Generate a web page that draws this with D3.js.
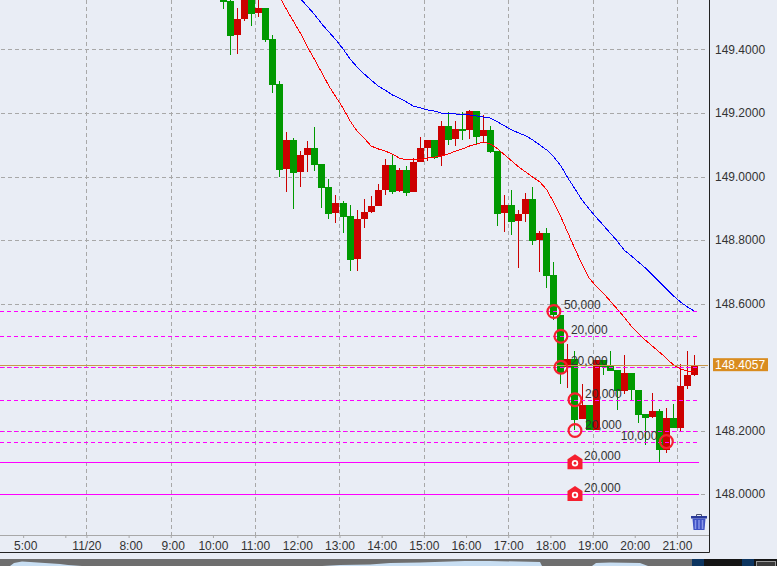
<!DOCTYPE html>
<html>
<head>
<meta charset="utf-8">
<script src="https://cdn.jsdelivr.net/npm/d3@7"></script>
<style>
  html, body { margin: 0; padding: 0; background: #e9edf5; overflow: hidden; }
  svg { display: block; }
  text { font-family: "Liberation Sans", Arial, sans-serif; font-size: 12px; fill: #333; }
</style>
</head>
<body>
<div id="chart"></div>
<script>
// 10 minute candles, index 0 is the first one that reaches into the window
var opens = [149.588,149.553,149.446,149.496,149.562,149.515,149.531,149.433,149.291,149.024,
  149.115,149.014,149.068,149.090,149.039,148.967,148.885,148.917,148.876,148.740,
  148.866,148.888,148.907,148.958,149.036,148.954,149.020,148.951,149.046,149.090,
  149.115,149.065,149.159,149.118,149.150,149.147,149.206,149.128,149.147,149.080,
  148.885,148.910,148.860,148.882,148.929,148.800,148.822,148.690,148.564,148.400,
  148.425,148.236,148.280,148.201,148.422,148.403,148.390,148.324,148.381,148.328,
  148.252,148.242,148.261,148.138,148.239,148.208,148.340,148.375];
var highs = [149.606,149.581,149.531,149.594,149.581,149.569,149.531,149.446,149.301,149.140,
  149.121,149.080,149.112,149.156,149.039,148.992,148.942,148.923,148.910,148.894,
  148.929,148.939,148.976,149.055,149.068,149.027,149.033,149.058,149.124,149.115,
  149.115,149.175,149.203,149.175,149.203,149.210,149.206,149.194,149.159,149.080,
  148.942,148.958,148.894,148.948,148.967,148.828,148.838,148.731,148.564,148.472,
  148.450,148.346,148.280,148.422,148.422,148.450,148.390,148.438,148.381,148.328,
  148.252,148.318,148.268,148.271,148.283,148.409,148.450,148.438];
var lows = [149.528,149.383,149.386,149.490,149.474,149.502,149.424,149.263,148.998,148.951,
  148.898,148.967,149.014,149.017,148.901,148.866,148.854,148.822,148.702,148.702,
  148.838,148.885,148.907,148.942,148.945,148.951,148.939,148.951,149.046,149.049,
  149.055,149.033,149.099,149.096,149.115,149.118,149.102,149.106,149.074,148.844,
  148.825,148.816,148.712,148.857,148.784,148.699,148.649,148.548,148.346,148.334,
  148.201,148.236,148.201,148.201,148.375,148.387,148.265,148.315,148.296,148.224,
  148.154,148.239,148.101,148.129,148.208,148.195,148.331,148.372];
var closes = [149.550,149.443,149.496,149.569,149.512,149.531,149.430,149.288,149.020,149.115,
  149.011,149.068,149.090,149.036,148.964,148.882,148.917,148.872,148.737,148.866,
  148.888,148.907,148.958,149.036,148.951,149.020,148.948,149.046,149.090,149.115,
  149.058,149.159,149.115,149.150,149.143,149.206,149.124,149.147,149.077,148.882,
  148.910,148.857,148.882,148.929,148.797,148.822,148.687,148.564,148.381,148.425,
  148.233,148.280,148.201,148.422,148.400,148.387,148.324,148.381,148.328,148.249,
  148.239,148.261,148.138,148.239,148.208,148.340,148.375,148.406];

// moving averages, both run up to the last candle
var maRed = [149.565,149.525,149.487,149.449,149.405,149.367,149.326,149.285,149.250,149.216,
  149.175,149.143,149.121,149.096,149.087,149.080,149.071,149.058,149.052,149.052,
  149.052,149.058,149.061,149.065,149.071,149.080,149.087,149.096,149.102,149.109,
  149.102,149.087,149.068,149.049,149.030,149.014,148.998,148.983,148.958,148.917,
  148.872,148.822,148.772,148.724,148.680,148.655,148.633,148.608,148.583,148.557,
  148.529,148.507,148.485,148.466,148.447,148.428,148.406,148.394,148.387,148.384];
var maBlue = [149.559,149.534,149.509,149.480,149.455,149.430,149.402,149.370,149.345,149.323,
  149.304,149.285,149.272,149.257,149.247,149.235,149.222,149.216,149.210,149.206,
  149.200,149.197,149.197,149.194,149.194,149.191,149.187,149.184,149.172,149.159,
  149.147,149.137,149.128,149.115,149.099,149.083,149.061,149.033,148.995,148.961,
  148.926,148.898,148.872,148.847,148.822,148.797,148.768,148.750,148.731,148.712,
  148.690,148.668,148.646,148.624,148.605,148.589,148.576];

var priceTicks = [148.0, 148.2, 148.4, 148.6, 148.8, 149.0, 149.2, 149.4];
var lastPrice = 148.4057;

var timeLabels = ["5:00", "", "11/20", "8:00", "9:00", "10:00", "11:00", "12:00", "13:00", "14:00",
  "15:00", "16:00", "17:00", "18:00", "19:00", "20:00", "21:00"];
var timeIndex = [-28.5, -22.5, -19.5, -13.5, -7.5, -1.5, 4.5, 10.5, 16.5, 22.5,
  28.5, 34.5, 40.5, 46.5, 52.5, 58.5, 64.5];
var gridIndex = [-19.5, -7.5, 4.5, 16.5, 28.5, 40.5, 52.5, 64.5];

// orders
var orderPrices = [148.575, 148.497, 148.399, 148.297, 148.2, 148.165];
var orderIndex = [47, 48, 48, 50, 50, 63];
var orderLabels = ["50,000", "20,000", "20,000", "20,000", "20,000", "10,000"];
var stopPrices = [148.1, 148.0];
var stopIndex = [50, 50];
var stopLabels = ["20,000", "20,000"];

// overview strip along the bottom of the window
var overviewX = [[10,14,22,30,60,68,82], [322,340,370,390,420,465,490,540,542], [592,596,610,640,648]];
var overviewLevel = [[0,3,4.5,4,2,1,0], [0,1,1.5,3,3.5,5,5,4,0], [0,3,3.5,3,0]];

var width = 777, height = 566;
var plotRight = 709, axisY = 535, frameBottom = 552;

var x = d3.scaleLinear().domain([0, 67]).range([223.5, 694.5]);
var y = d3.scaleLinear().domain([148, 150]).range([494, -141]);

function crisp(v) {
  return Math.round(v) + 0.5;
}

var svg = d3.select("#chart").append("svg").attr("width", width).attr("height", height);

// grid
svg.append("g").selectAll("line").data(priceTicks).enter().append("line")
  .attr("x1", 1).attr("x2", plotRight - 1)
  .attr("y1", function (d) { return crisp(y(d)); })
  .attr("y2", function (d) { return crisp(y(d)); })
  .attr("stroke", "#a8a8a8").attr("stroke-dasharray", "4,3");

svg.append("g").selectAll("line").data(gridIndex).enter().append("line")
  .attr("x1", function (d) { return crisp(x(d)); })
  .attr("x2", function (d) { return crisp(x(d)); })
  .attr("y1", 0).attr("y2", axisY)
  .attr("stroke", "#a8a8a8").attr("stroke-dasharray", "4,3");

// candles
var candles = svg.append("g").selectAll("g").data(opens).enter().append("g")
  .attr("shape-rendering", "crispEdges")
  .attr("fill", function (d, i) { return closes[i] < d ? "#009900" : "#cc0000"; });

candles.append("rect")
  .attr("x", function (d, i) { return Math.floor(x(i)); })
  .attr("width", 1)
  .attr("y", function (d, i) { return y(highs[i]); })
  .attr("height", function (d, i) { return y(lows[i]) - y(highs[i]); });

candles.append("rect")
  .attr("x", function (d, i) { return Math.floor(x(i)) - 3; })
  .attr("width", 7)
  .attr("y", function (d, i) { return y(Math.max(d, closes[i])); })
  .attr("height", function (d, i) { return Math.abs(y(d) - y(closes[i])); });

// moving averages
function drawMa(values, color) {
  var start = opens.length - values.length;
  var line = d3.line()
    .x(function (d, i) { return x(start + i); })
    .y(function (d) { return y(d); });
  svg.append("path").datum(values)
    .attr("d", line)
    .attr("fill", "none")
    .attr("stroke", color)
    .attr("stroke-width", 1)
    .attr("shape-rendering", "crispEdges");
}
drawMa(maRed, "#ff0000");
drawMa(maBlue, "#0000ff");

// current price
svg.append("line")
  .attr("x1", 0).attr("x2", plotRight - 1)
  .attr("y1", crisp(y(lastPrice))).attr("y2", crisp(y(lastPrice)))
  .attr("stroke", "#c8964a");

// order lines
svg.append("g").selectAll("line").data(orderPrices).enter().append("line")
  .attr("x1", 0).attr("x2", 697)
  .attr("y1", function (d) { return crisp(y(d)); })
  .attr("y2", function (d) { return crisp(y(d)); })
  .attr("stroke", "#ff00ff").attr("stroke-dasharray", "4,3");

svg.append("g").selectAll("line").data(stopPrices).enter().append("line")
  .attr("x1", 0).attr("x2", 699)
  .attr("y1", function (d) { return crisp(y(d)); })
  .attr("y2", function (d) { return crisp(y(d)); })
  .attr("stroke", "#ff00ff");

// order labels, the last one sits left of its ring
svg.append("g").selectAll("text").data(orderLabels).enter().append("text")
  .attr("x", function (d, i) { return x(orderIndex[i]) + (i == 5 ? -9 : 10); })
  .attr("y", function (d, i) { return y(orderPrices[i]) - 2; })
  .attr("text-anchor", function (d, i) { return i == 5 ? "end" : "start"; })
  .text(function (d) { return d; });

svg.append("g").selectAll("text").data(stopLabels).enter().append("text")
  .attr("x", function (d, i) { return x(stopIndex[i]) + 9; })
  .attr("y", function (d, i) { return y(stopPrices[i]) - 2; })
  .text(function (d) { return d; });

// order rings
svg.append("g").selectAll("circle").data(orderPrices).enter().append("circle")
  .attr("cx", function (d, i) { return x(orderIndex[i]); })
  .attr("cy", function (d) { return y(d); })
  .attr("r", 6.4)
  .attr("fill", "none")
  .attr("stroke", "#f5202f")
  .attr("stroke-width", 2.2);

// stop markers
var house = d3.path();
house.moveTo(0, -8);
house.lineTo(7.5, -3);
house.lineTo(7.5, 7);
house.lineTo(-7.5, 7);
house.lineTo(-7.5, -3);
house.closePath();

var stops = svg.append("g").selectAll("g").data(stopPrices).enter().append("g")
  .attr("transform", function (d, i) {
    return "translate(" + x(stopIndex[i]) + "," + y(d) + ")";
  });
stops.append("path").attr("d", house.toString()).attr("fill", "#f5202f");
stops.append("circle").attr("cy", 1).attr("r", 3.2).attr("fill", "#fff");
stops.append("circle").attr("cy", 1).attr("r", 1.4).attr("fill", "#f5202f");

// axes
var timeAxis = svg.append("g")
  .attr("transform", "translate(0," + axisY + ")")
  .call(d3.axisBottom(x)
    .tickValues(timeIndex)
    .tickSize(3)
    .tickPadding(3.5)
    .tickFormat(function (d, i) { return timeLabels[i]; }));
timeAxis.select(".domain").remove();
timeAxis.selectAll("line").attr("stroke", "#a8a8a8");
timeAxis.selectAll("text")
  .attr("dx", function (d, i) { return timeLabels[i].length == 4 ? 2 : 0; })
  .attr("fill", null);

svg.append("line")
  .attr("x1", 0).attr("x2", plotRight)
  .attr("y1", axisY + 0.5).attr("y2", axisY + 0.5)
  .attr("stroke", "#a8a8a8");

// the tag below takes the place of any price label it would sit on
var priceAxis = svg.append("g")
  .attr("transform", "translate(" + plotRight + ",0)")
  .call(d3.axisRight(y)
    .tickValues(priceTicks.filter(function (d) {
      return Math.abs(y(d) - y(lastPrice)) > 10;
    }))
    .tickSize(0)
    .tickPadding(6)
    .tickFormat(d3.format(".4f")));
priceAxis.select(".domain").remove();
priceAxis.selectAll("text").attr("fill", null);

// frame
svg.append("path")
  .attr("d", "M" + (plotRight + 0.5) + ",0V" + (frameBottom + 0.5) + "H0")
  .attr("fill", "none")
  .attr("stroke", "#222");

// last price tag
svg.append("rect")
  .attr("x", 713).attr("y", y(lastPrice) - 7)
  .attr("width", 55).attr("height", 13)
  .attr("fill", "#d98c1f");
svg.append("text")
  .attr("x", 715).attr("y", y(lastPrice) + 4)
  .style("fill", "#fff")
  .text(d3.format(".4f")(lastPrice));

// trash can
var trash = svg.append("g").attr("transform", "translate(691,514)");
trash.append("path").attr("d", "M5.5,2V0.5H10.5V2").attr("fill", "none").attr("stroke", "#4a4f70");
trash.append("rect").attr("y", 2).attr("width", 16).attr("height", 2.5).attr("fill", "#2a3a9a");
trash.append("path").attr("d", "M1.5,4.5H14.5L13.5,16H2.5Z").attr("fill", "#3f52c4");
trash.selectAll("rect.rib").data([4.5, 8, 11.5]).enter().append("rect")
  .attr("class", "rib")
  .attr("x", function (d) { return d - 0.75; })
  .attr("y", 6).attr("width", 1.5).attr("height", 9)
  .attr("fill", "#8a98e8");

// window strip under the chart
var strip = svg.append("g");
strip.append("rect").attr("y", 559).attr("width", width).attr("height", 7).attr("fill", "#6e6e6e");

var stripX = d3.scaleLinear().domain([0, width]).range([0, width]);
var stripY = d3.scaleLinear().domain([0, 8]).range([566, 558]);
overviewX.forEach(function (xs, n) {
  var area = d3.area()
    .x(function (d) { return stripX(d); })
    .y0(566)
    .y1(function (d, i) { return stripY(overviewLevel[n][i]); });
  strip.append("path").datum(xs).attr("d", area).attr("fill", "#c8def2");
});

strip.append("rect").attr("x", 692).attr("y", 559).attr("width", 85).attr("height", 7).attr("fill", "#151515");
strip.append("rect").attr("x", 692).attr("y", 559).attr("width", 12).attr("height", 7).attr("fill", "#0d3560");
strip.append("rect").attr("x", 742).attr("y", 559).attr("width", 12).attr("height", 7).attr("fill", "#0d3560");
strip.append("rect").attr("x", 756.5).attr("y", 561.5).attr("width", 19).attr("height", 6)
  .attr("fill", "#3a3a3a").attr("stroke", "#999");
</script>
</body>
</html>
